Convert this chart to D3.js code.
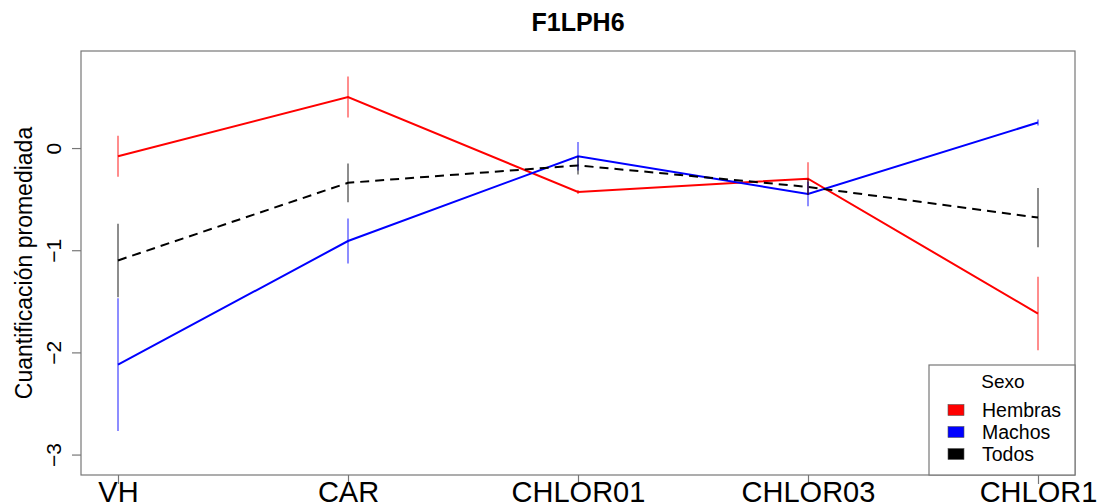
<!DOCTYPE html>
<html>
<head>
<meta charset="utf-8">
<script src="https://cdn.jsdelivr.net/npm/d3@7"></script>
<style>
  html, body { margin: 0; padding: 0; background: #fff; }
  svg { display: block; font-family: "Liberation Sans", Arial, sans-serif; }
</style>
</head>
<body>
<svg id="chart" width="1099" height="504"></svg>
<script>
// Data
const categories = ['VH', 'CAR', 'CHLOR01', 'CHLOR03', 'CHLOR1'];
const hembrasMean = [-0.08, 0.50, -0.43, -0.30, -1.62];
const hembrasSE   = [0.20, 0.20, 0.02, 0.16, 0.36];
const machosMean  = [-2.12, -0.91, -0.08, -0.45, 0.25];
const machosSE    = [0.65, 0.22, 0.14, 0.12, 0.03];
const todosMean   = [-1.10, -0.34, -0.17, -0.38, -0.68];
const todosSE     = [0.36, 0.19, 0.09, 0.08, 0.29];
const yTicks = [0, -1, -2, -3];
const legendTitle = 'Sexo';

const series = [
  { name: 'Hembras', mean: hembrasMean, se: hembrasSE, color: '#ff0000', dash: null },
  { name: 'Machos', mean: machosMean, se: machosSE, color: '#0000ff', dash: null },
  { name: 'Todos', mean: todosMean, se: todosSE, color: '#000000', dash: '9,6' }
];

const svg = d3.select('#chart');
const box = { left: 81, right: 1075, top: 51, bottom: 475 };

const x = d3.scalePoint().domain(categories).range([118, 1038]);
const y = d3.scaleLinear().domain([-3.2, 0.95]).range([box.bottom, box.top]);

// Title
svg.append('text')
  .attr('x', (box.left + box.right) / 2)
  .attr('y', 31)
  .attr('text-anchor', 'middle')
  .attr('font-size', 25)
  .attr('font-weight', 'bold')
  .text('F1LPH6');

// Y axis label
svg.append('text')
  .attr('transform', `translate(32,${(box.top + box.bottom) / 2}) rotate(-90)`)
  .attr('text-anchor', 'middle')
  .attr('font-size', 23)
  .text('Cuantificación promediada');

// Y axis (R style: rotated labels)
const yAxis = svg.append('g')
  .attr('transform', `translate(${box.left},0)`)
  .call(d3.axisLeft(y).tickValues(yTicks).tickSize(9).tickPadding(0).tickFormat(d3.format('d')));
yAxis.select('.domain').remove();
yAxis.selectAll('line').attr('stroke', '#777').attr('stroke-width', 1.2);
yAxis.selectAll('.tick text')
  .attr('font-size', 21)
  .attr('font-family', '"Liberation Sans", Arial, sans-serif')
  .attr('x', null).attr('dy', null).attr('y', 0)
  .attr('text-anchor', 'middle')
  .attr('transform', 'translate(-20,0) rotate(-90)');

// X axis
const xAxis = svg.append('g')
  .attr('transform', `translate(0,${box.bottom})`)
  .call(d3.axisBottom(x).tickSize(9).tickPadding(0));
xAxis.select('.domain').remove();
xAxis.selectAll('line').attr('stroke', '#777').attr('stroke-width', 1.2);
xAxis.selectAll('text')
  .attr('font-size', 29)
  .attr('font-family', '"Liberation Sans", Arial, sans-serif')
  .attr('fill', '#000')
  .attr('dy', null)
  .attr('y', 27);

// Lines
const line = d3.line().x((d, i) => x(categories[i])).y(d => y(d));
series.forEach(s => {
  svg.append('path')
    .datum(s.mean)
    .attr('d', line)
    .attr('fill', 'none')
    .attr('stroke', s.color)
    .attr('stroke-width', 2)
    .attr('stroke-dasharray', s.dash);
});

// Error bars
series.forEach(s => {
  svg.append('g').selectAll('line')
    .data(s.mean.map((m, i) => ({ cat: categories[i], m, se: s.se[i] })))
    .enter().append('line')
    .attr('x1', d => x(d.cat)).attr('x2', d => x(d.cat))
    .attr('y1', d => y(d.m + d.se)).attr('y2', d => y(d.m - d.se))
    .attr('stroke', s.color)
    .attr('stroke-opacity', 0.6)
    .attr('stroke-width', 1.5);
});

// Plot box
svg.append('rect')
  .attr('x', box.left).attr('y', box.top)
  .attr('width', box.right - box.left).attr('height', box.bottom - box.top)
  .attr('fill', 'none')
  .attr('stroke', '#777')
  .attr('stroke-width', 1.2);

// Legend
const lg = svg.append('g');
lg.append('rect')
  .attr('x', 929).attr('y', 365)
  .attr('width', box.right - 929).attr('height', box.bottom - 365)
  .attr('fill', '#fff').attr('stroke', '#777').attr('stroke-width', 1.2);
lg.append('text')
  .attr('x', 1003).attr('y', 388)
  .attr('text-anchor', 'middle')
  .attr('font-size', 19)
  .text(legendTitle);
series.forEach((s, i) => {
  const cy = 410 + i * 22;
  lg.append('rect')
    .attr('x', 948).attr('y', cy - 5.5)
    .attr('width', 16).attr('height', 11)
    .attr('fill', s.color).attr('stroke', '#555').attr('stroke-width', 0.6);
  lg.append('text')
    .attr('x', 982).attr('y', cy + 7)
    .attr('font-size', 19.5)
    .text(s.name);
});
</script>
</body>
</html>
